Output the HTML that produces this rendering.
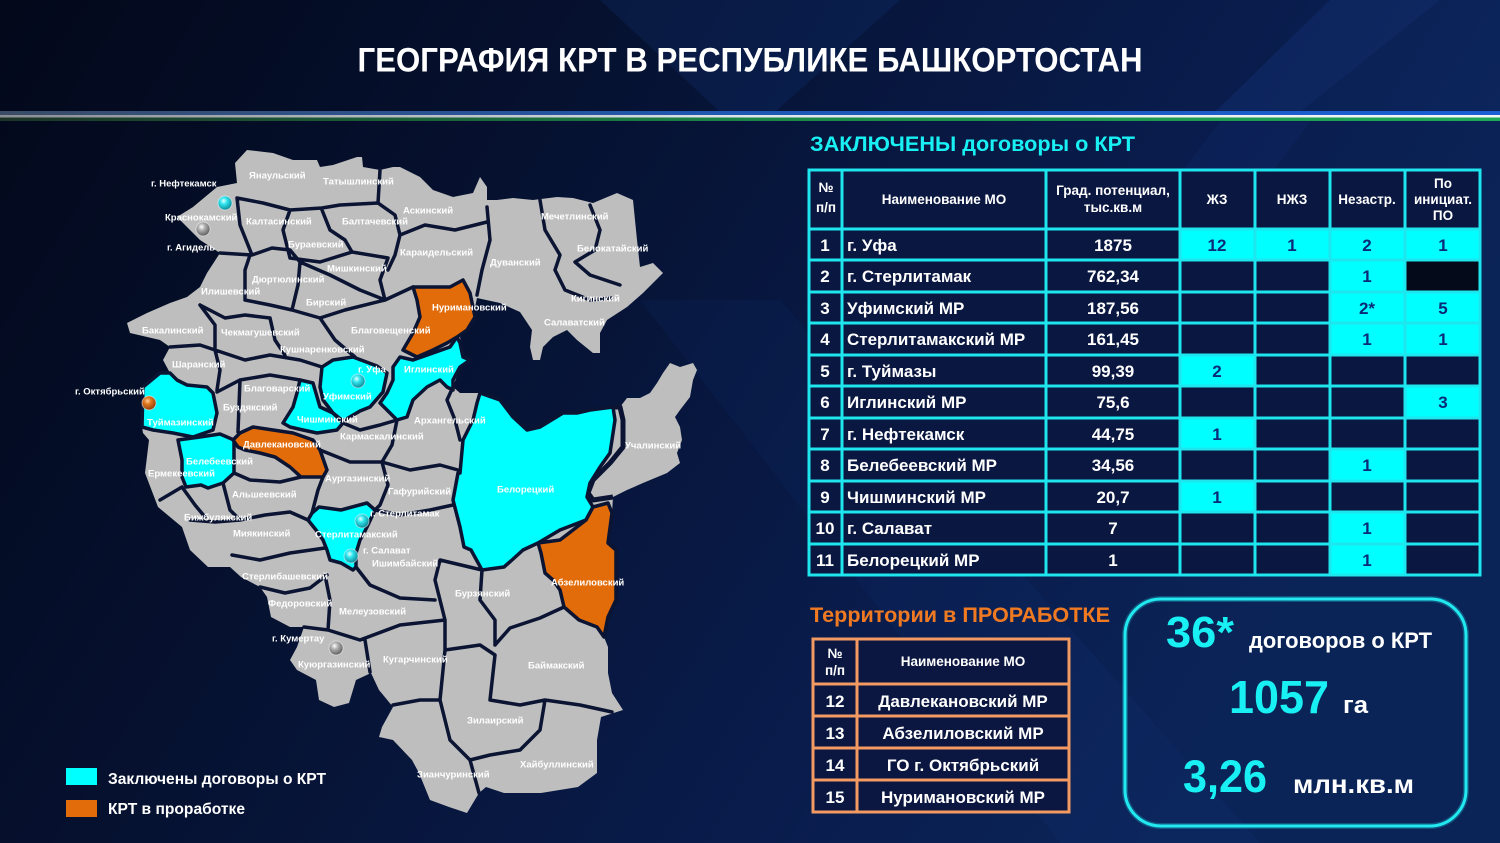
<!DOCTYPE html>
<html><head><meta charset="utf-8"><style>
html,body{margin:0;padding:0;background:#050c24;}
svg{display:block;}
text{font-family:"Liberation Sans","Noto Sans CJK SC",sans-serif;font-weight:bold;}
.ml{font-size:9.5px;fill:#fff;}
.tb{font-size:17px;fill:#fff;}
.tc{font-size:17px;fill:#0a2a78;}
.th{font-size:13.5px;fill:#fff;}
</style></head><body>
<svg width="1500" height="843" viewBox="0 0 1500 843" xmlns="http://www.w3.org/2000/svg">
<defs>
<linearGradient id="bg" x1="0" y1="0" x2="1" y2="0.35">
<stop offset="0" stop-color="#03081a"/><stop offset="0.4" stop-color="#061232"/><stop offset="0.75" stop-color="#091c4c"/><stop offset="1" stop-color="#0b2458"/>
</linearGradient>
<linearGradient id="sb" x1="0" x2="1"><stop offset="0" stop-color="#3a4c66"/><stop offset="0.5" stop-color="#1e58b4"/><stop offset="1" stop-color="#1a60d4"/></linearGradient>
<linearGradient id="sw" x1="0" x2="1"><stop offset="0" stop-color="#8a8e94"/><stop offset="0.5" stop-color="#dde4ea"/><stop offset="1" stop-color="#f4f6f6"/></linearGradient>
<linearGradient id="sg" x1="0" x2="1"><stop offset="0" stop-color="#1c3428"/><stop offset="0.5" stop-color="#1a8648"/><stop offset="1" stop-color="#1eaa58"/></linearGradient>
<radialGradient id="pc" cx="0.4" cy="0.35" r="0.7"><stop offset="0" stop-color="#e8ffff"/><stop offset="0.35" stop-color="#30e6ee"/><stop offset="1" stop-color="#0a8090"/></radialGradient>
<radialGradient id="pg" cx="0.4" cy="0.35" r="0.7"><stop offset="0" stop-color="#ffffff"/><stop offset="0.35" stop-color="#b0b0b0"/><stop offset="1" stop-color="#555"/></radialGradient>
<radialGradient id="po" cx="0.4" cy="0.35" r="0.7"><stop offset="0" stop-color="#ffd0a0"/><stop offset="0.35" stop-color="#e07820"/><stop offset="1" stop-color="#8a3a08"/></radialGradient>
</defs>
<!-- background -->
<rect width="1500" height="843" fill="url(#bg)"/>
<polygon points="600,0 900,0 775,112 720,112" fill="#1a4aa0" opacity="0.16"/>
<polygon points="1330,0 1440,0 1300,112 1215,112" fill="#2a5ac0" opacity="0.14"/>
<polygon points="1440,0 1500,0 1500,112 1300,112" fill="#1a4aa0" opacity="0.08"/>
<polygon points="640,300 780,300 1260,843 1060,843" fill="#1a4aa0" opacity="0.08"/>
<polygon points="1220,122 1310,122 1100,400 1010,400" fill="#2a5ac0" opacity="0.07"/>
<!-- stripe -->
<rect x="0" y="111" width="1500" height="4" fill="url(#sb)"/>
<rect x="0" y="115" width="1500" height="2.5" fill="url(#sw)"/>
<rect x="0" y="117.5" width="1500" height="3.5" fill="url(#sg)"/>
<!-- title -->
<text x="750" y="71.5" text-anchor="middle" font-size="34" fill="#fff" textLength="785" lengthAdjust="spacingAndGlyphs">ГЕОГРАФИЯ КРТ В РЕСПУБЛИКЕ БАШКОРТОСТАН</text>

<!-- MAP -->
<path d="M217,187 L237,183 L235,163 L247,150 L273,153 L293,160 L317,160 L320,167 L333,165 L357,157 L362,157 L363,167 L380,170 L393,167 L400,167 L420,177 L433,190 L453,197 L473,193 L480,177 L487,187 L487,200 L497,200 L513,198 L533,200 L557,197 L573,198 L593,203 L617,193 L633,200 L637,240 L640,267 L653,263 L663,273 L643,293 L627,307 L607,320 L600,333 L600,353 L593,353 L577,340 L567,330 L553,337 L543,347 L540,360 L533,360 L530,347 L532,330 L520,312 L500,303 L477,298 L473,317 L467,330 L460,337 L463,357 L470,360 L460,367 L453,387 L460,393 L480,393 L500,400 L513,417 L527,430 L540,427 L563,413 L577,413 L590,410 L613,407 L620,407 L627,398 L640,398 L650,393 L657,383 L663,373 L670,363 L680,367 L693,363 L697,370 L693,380 L690,397 L680,410 L675,417 L680,427 L682,440 L677,453 L680,463 L667,473 L643,483 L627,490 L613,497 L612,513 L608,543 L616,550 L616,600 L608,617 L604,637 L608,647 L608,673 L612,693 L623,710 L601,717 L597,740 L597,773 L578,787 L541,793 L504,793 L486,787 L479,793 L467,813 L449,807 L430,800 L419,773 L412,760 L393,740 L379,737 L382,727 L393,707 L379,690 L371,673 L356,680 L349,703 L334,707 L319,700 L316,680 L297,670 L290,660 L297,647 L304,627 L290,627 L271,617 L267,597 L260,587 L241,577 L230,567 L208,567 L190,550 L182,527 L158,507 L145,473 L149,440 L143,433 L142,427 L143,387 L160,373 L170,373 L163,360 L170,347 L160,340 L130,333 L127,323 L147,313 L170,303 L187,297 L200,287 L207,273 L220,253 L200,240 L177,217 L193,207 Z" fill="#bebebe"/>
<!-- internal borders -->
<path fill="none" stroke="#0b1533" stroke-width="3.5" stroke-linejoin="round" stroke-linecap="round" d="
M237,198 L263,203 L290,210 L322,208 L340,205 L378,203
M237,198 L240,225 L248,245 L252,255
M220,253 L252,255 L272,248 L290,250 L300,262
M290,210 L283,230 L290,258
M322,210 L330,230 L345,240 L352,252
M378,203 L380,170
M378,203 L395,215 L400,235
M400,235 L395,255 L388,270
M290,258 L320,262 L352,252 L388,258
M388,258 L380,280 L385,300
M300,262 L330,275 L360,290 L385,300
M250,255 L245,270 L245,300
M200,305 L225,318 L245,315 L270,318
M245,300 L270,305 L292,310
M300,262 L298,285 L292,310
M292,310 L320,318 L345,310 L385,300 L413,287
M320,318 L335,340 L355,357
M270,318 L275,340 L285,355
M170,347 L200,345 L215,350
M200,305 L215,325 L215,350
M215,350 L220,370 L217,390
M215,350 L245,360 L270,355 L300,360 L322,367
M217,392 L240,380 L270,375 L300,380
M240,380 L238,432
M343,423 L360,430 L380,425 L397,420
M397,420 L392,445 L382,462
M320,450 L350,462 L382,462 L410,470 L440,465 L458,470
M382,462 L388,485 L380,505 L375,510
M323,477 L318,490 L312,513
M234,473 L250,480 L280,482 L301,477
M223,483 L230,510 L240,520
M182,487 L195,505 L205,517
M160,500 L182,487
M190,520 L215,522 L240,520 L265,515 L290,512 L308,520
M232,555 L260,560 L290,553 L325,548
M375,510 L400,515 L430,510 L453,505
M356,567 L370,585 L400,598 L435,600
M482,570 L440,560 L435,580 L440,600 L445,620
M260,587 L285,593 L310,588 L327,575
M325,575 L330,600 L328,630
M304,627 L328,630 L360,640 L400,625 L445,620
M365,640 L370,672
M445,620 L445,650 L440,700
M393,705 L420,700 L440,700
M445,650 L480,645 L495,655 L490,700 L520,705 L545,700 L580,705 L612,712
M545,700 L540,730 L520,750 L490,755 L470,760
M440,700 L450,740 L470,760 L479,793
M482,570 L480,600 L495,620 L495,645
M564,607 L540,618 L510,628 L495,645
M487,207 L490,240 L482,270 L477,295
M540,200 L545,230 L560,255 L555,270
M590,205 L600,230 L595,250 L575,262
M555,270 L565,290 L590,300 L612,298
M575,262 L590,275 L620,285
M400,235 L425,225 L455,230 L487,222
M453,387 L447,400 L455,420 L460,440
"/>
<path fill="none" stroke="#0b1533" stroke-width="5" stroke-linejoin="round" d="M613,407 L620,407 L623,420 L623,447 L610,463 L593,480 L588,493 L593,500 L613,497"/>
<!-- colored regions -->
<g stroke="#0b1533" stroke-width="3.5" stroke-linejoin="round">
<polygon fill="#00ffff" points="143,387 160,373 170,373 177,380 187,385 207,387 213,393 217,413 213,430 193,437 173,433 153,430 142,427"/>
<polygon fill="#00ffff" points="178,440 200,437 220,434 234,440 234,473 223,483 208,488 201,485 186,487 182,477 182,460"/>
<polygon fill="#e36c0a" points="233,440 240,433 253,427 273,430 293,433 313,440 320,450 327,470 323,477 301,477 290,467 275,457 260,453 245,450 238,447"/>
<polygon fill="#00ffff" points="300,380 313,383 320,407 333,413 343,423 337,430 317,433 303,430 290,427 283,423 293,407 297,393"/>
<polygon fill="#00ffff" points="322,367 333,360 353,357 377,366 387,373 383,392 370,407 360,411 343,421 333,413 323,400 320,387"/>
<polygon fill="#00ffff" points="400,357 413,360 433,353 450,347 457,337 460,343 463,357 470,360 460,367 453,380 453,390 447,387 440,380 427,387 413,400 407,417 397,420 387,410 380,403 387,393 393,380 393,367"/>
<polygon fill="#e36c0a" points="413,287 430,287 450,287 463,280 470,293 475,317 467,330 457,337 447,343 433,350 417,357 403,350 413,333 420,317 417,300"/>
<polygon fill="#00ffff" points="480,393 500,400 513,417 527,430 540,427 563,413 577,413 590,410 613,407 615,420 612,440 610,453 600,467 590,483 587,497 593,507 586,520 560,530 538,543 523,550 512,560 504,567 482,570 471,550 464,547 460,527 453,500 458,473 460,473 463,440 473,420 477,403"/>
<polygon fill="#e36c0a" points="608,503 612,513 608,543 616,550 616,600 608,617 604,637 597,627 579,620 564,607 560,590 553,580 545,573 541,553 538,543 560,540 586,520 593,507"/>
<polygon fill="#00ffff" points="312,513 319,507 341,510 367,503 375,510 367,527 364,533 360,540 356,553 356,567 353,570 341,563 330,560 327,550 323,540 316,530 308,520"/>
</g>
<!-- pins -->
<g stroke="#ffffff" stroke-opacity="0.5" stroke-width="1">
<circle cx="225" cy="203" r="7" fill="url(#pc)"/>
<circle cx="203" cy="229" r="7" fill="url(#pg)"/>
<circle cx="358" cy="381" r="7" fill="url(#pc)"/>
<circle cx="149" cy="403" r="7" fill="url(#po)"/>
<circle cx="362" cy="521" r="7" fill="url(#pc)"/>
<circle cx="351" cy="556" r="7" fill="url(#pc)"/>
<circle cx="336" cy="648" r="7" fill="url(#pg)"/>
</g>
<!-- map labels -->
<g class="ml">
<text class="ml" x="151" y="186.5">г. Нефтекамск</text>
<text class="ml" x="249" y="178.5">Янаульский</text>
<text class="ml" x="323" y="184.5">Татышлинский</text>
<text class="ml" x="165" y="220.5">Краснокамский</text>
<text class="ml" x="246" y="224.5">Калтасинский</text>
<text class="ml" x="342" y="224.5">Балтачевский</text>
<text class="ml" x="403" y="213.5">Аскинский</text>
<text class="ml" x="541" y="219.5">Мечетлинский</text>
<text class="ml" x="167" y="250.5">г. Агидель</text>
<text class="ml" x="288" y="247.5">Бураевский</text>
<text class="ml" x="400" y="255.5">Караидельский</text>
<text class="ml" x="577" y="251.5">Белокатайский</text>
<text class="ml" x="490" y="265.5">Дуванский</text>
<text class="ml" x="327" y="271.5">Мишкинский</text>
<text class="ml" x="252" y="282.5">Дюртюлинский</text>
<text class="ml" x="201" y="294.5">Илишевский</text>
<text class="ml" x="306" y="305.5">Бирский</text>
<text class="ml" x="432" y="310.5">Нуримановский</text>
<text class="ml" x="571" y="301.5">Кигинский</text>
<text class="ml" x="544" y="325.5">Салаватский</text>
<text class="ml" x="142" y="333.5">Бакалинский</text>
<text class="ml" x="221" y="335.5">Чекмагушевский</text>
<text class="ml" x="351" y="333.5">Благовещенский</text>
<text class="ml" x="280" y="352.5">Кушнаренковский</text>
<text class="ml" x="172" y="367.5">Шаранский</text>
<text class="ml" x="358" y="372.5">г. Уфа</text>
<text class="ml" x="404" y="372.5">Иглинский</text>
<text class="ml" x="75" y="394.5">г. Октябрьский</text>
<text class="ml" x="244" y="391.5">Благоварский</text>
<text class="ml" x="323" y="399.5">Уфимский</text>
<text class="ml" x="223" y="410.5">Буздякский</text>
<text class="ml" x="414" y="423.5">Архангельский</text>
<text class="ml" x="147" y="425.5">Туймазинский</text>
<text class="ml" x="297" y="422.5">Чишминский</text>
<text class="ml" x="340" y="439.5">Кармаскалинский</text>
<text class="ml" x="243" y="447.5">Давлекановский</text>
<text class="ml" x="625" y="448.5">Учалинский</text>
<text class="ml" x="186" y="464.5">Белебеевский</text>
<text class="ml" x="148" y="476.5">Ермекеевский</text>
<text class="ml" x="325" y="481.5">Аургазинский</text>
<text class="ml" x="497" y="492.5">Белорецкий</text>
<text class="ml" x="388" y="494.5">Гафурийский</text>
<text class="ml" x="232" y="497.5">Альшеевский</text>
<text class="ml" x="370" y="516.5">г. Стерлитамак</text>
<text class="ml" x="184" y="520.5">Бижбулякский</text>
<text class="ml" x="233" y="536.5">Миякинский</text>
<text class="ml" x="315" y="537.5">Стерлитамакский</text>
<text class="ml" x="363" y="553.5">г. Салават</text>
<text class="ml" x="372" y="566.5">Ишимбайский</text>
<text class="ml" x="242" y="579.5">Стерлибашевский</text>
<text class="ml" x="551" y="585.5">Абзелиловский</text>
<text class="ml" x="455" y="596.5">Бурзянский</text>
<text class="ml" x="268" y="606.5">Федоровский</text>
<text class="ml" x="339" y="614.5">Мелеузовский</text>
<text class="ml" x="272" y="641.5">г. Кумертау</text>
<text class="ml" x="383" y="662.5">Кугарчинский</text>
<text class="ml" x="298" y="667.5">Куюргазинский</text>
<text class="ml" x="528" y="668.5">Баймакский</text>
<text class="ml" x="467" y="723.5">Зилаирский</text>
<text class="ml" x="520" y="767.5">Хайбуллинский</text>
<text class="ml" x="417" y="777.5">Зианчуринский</text>
</g>
<!-- legend -->
<rect x="66" y="768" width="31" height="17" fill="#00ffff"/>
<rect x="66" y="800" width="31" height="17" fill="#e36c0a"/>
<text x="108" y="784" font-size="16" fill="#fff" textLength="218" lengthAdjust="spacingAndGlyphs">Заключены договоры о КРТ</text>
<text x="108" y="814" font-size="16" fill="#fff" textLength="137" lengthAdjust="spacingAndGlyphs">КРТ в проработке</text>

<!-- TABLE 1 -->
<text x="810" y="151" font-size="21" fill="#19f0f4" textLength="325" lengthAdjust="spacingAndGlyphs">ЗАКЛЮЧЕНЫ договоры о КРТ</text>
<rect x="808" y="169" width="673" height="406" fill="#0a1740"/>
<rect x="1405" y="260" width="75" height="32" fill="#050a1a"/>
<g fill="#00ffff">
<rect x="1180" y="229" width="300" height="31"/>
<rect x="1330" y="260" width="75" height="32"/>
<rect x="1330" y="292" width="150" height="63"/>
<rect x="1180" y="355" width="75" height="31"/>
<rect x="1405" y="386" width="75" height="32"/>
<rect x="1180" y="418" width="75" height="31"/>
<rect x="1330" y="449" width="75" height="32"/>
<rect x="1180" y="481" width="75" height="31"/>
<rect x="1330" y="512" width="75" height="63"/>
</g>
<g stroke="#1ee6ee" stroke-width="3" fill="none">
<rect x="809" y="170" width="671" height="405"/>
<path d="M842,170 V575 M1046,170 V575 M1180,170 V575 M1255,170 V575 M1330,170 V575 M1405,170 V575
M809,229 H1480 M809,260 H1480 M809,292 H1480 M809,323 H1480 M809,355 H1480 M809,386 H1480 M809,418 H1480 M809,449 H1480 M809,481 H1480 M809,512 H1480 M809,544 H1480"/>
</g>
<!-- header -->
<g class="th" text-anchor="middle">
<text class="th" x="826" y="192">№</text>
<text class="th" x="826" y="212">п/п</text>
<text class="th" x="944" y="204">Наименование МО</text>
<text class="th" x="1113" y="195">Град. потенциал,</text>
<text class="th" x="1113" y="212">тыс.кв.м</text>
<text class="th" x="1217" y="204">ЖЗ</text>
<text class="th" x="1292" y="204">НЖЗ</text>
<text class="th" x="1367" y="204">Незастр.</text>
<text class="th" x="1443" y="188">По</text>
<text class="th" x="1443" y="204">инициат.</text>
<text class="th" x="1443" y="220">ПО</text>
</g>
<g class="tb">
<text class="tb" x="825" y="251" text-anchor="middle">1</text><text class="tb" x="847" y="251">г. Уфа</text><text class="tb" x="1113" y="251" text-anchor="middle">1875</text>
<text class="tb" x="825" y="282" text-anchor="middle">2</text><text class="tb" x="847" y="282">г. Стерлитамак</text><text class="tb" x="1113" y="282" text-anchor="middle">762,34</text>
<text class="tb" x="825" y="314" text-anchor="middle">3</text><text class="tb" x="847" y="314">Уфимский МР</text><text class="tb" x="1113" y="314" text-anchor="middle">187,56</text>
<text class="tb" x="825" y="345" text-anchor="middle">4</text><text class="tb" x="847" y="345">Стерлитамакский МР</text><text class="tb" x="1113" y="345" text-anchor="middle">161,45</text>
<text class="tb" x="825" y="377" text-anchor="middle">5</text><text class="tb" x="847" y="377">г. Туймазы</text><text class="tb" x="1113" y="377" text-anchor="middle">99,39</text>
<text class="tb" x="825" y="408" text-anchor="middle">6</text><text class="tb" x="847" y="408">Иглинский МР</text><text class="tb" x="1113" y="408" text-anchor="middle">75,6</text>
<text class="tb" x="825" y="440" text-anchor="middle">7</text><text class="tb" x="847" y="440">г. Нефтекамск</text><text class="tb" x="1113" y="440" text-anchor="middle">44,75</text>
<text class="tb" x="825" y="471" text-anchor="middle">8</text><text class="tb" x="847" y="471">Белебеевский МР</text><text class="tb" x="1113" y="471" text-anchor="middle">34,56</text>
<text class="tb" x="825" y="503" text-anchor="middle">9</text><text class="tb" x="847" y="503">Чишминский МР</text><text class="tb" x="1113" y="503" text-anchor="middle">20,7</text>
<text class="tb" x="825" y="534" text-anchor="middle">10</text><text class="tb" x="847" y="534">г. Салават</text><text class="tb" x="1113" y="534" text-anchor="middle">7</text>
<text class="tb" x="825" y="566" text-anchor="middle">11</text><text class="tb" x="847" y="566">Белорецкий МР</text><text class="tb" x="1113" y="566" text-anchor="middle">1</text>
</g>
<g class="tc" text-anchor="middle">
<text class="tc" x="1217" y="251">12</text><text class="tc" x="1292" y="251">1</text><text class="tc" x="1367" y="251">2</text><text class="tc" x="1443" y="251">1</text>
<text class="tc" x="1367" y="282">1</text>
<text class="tc" x="1367" y="314">2*</text><text class="tc" x="1443" y="314">5</text>
<text class="tc" x="1367" y="345">1</text><text class="tc" x="1443" y="345">1</text>
<text class="tc" x="1217" y="377">2</text>
<text class="tc" x="1443" y="408">3</text>
<text class="tc" x="1217" y="440">1</text>
<text class="tc" x="1367" y="471">1</text>
<text class="tc" x="1217" y="503">1</text>
<text class="tc" x="1367" y="534">1</text>
<text class="tc" x="1367" y="566">1</text>
</g>

<!-- TABLE 2 -->
<text x="810" y="622" font-size="21" fill="#f07a22" textLength="300" lengthAdjust="spacingAndGlyphs">Территории в ПРОРАБОТКЕ</text>
<rect x="812" y="638" width="258" height="175" fill="#0b1740"/>
<g stroke="#f29a62" stroke-width="3" fill="none">
<rect x="813" y="639" width="256" height="173"/>
<path d="M857,639 V812 M813,684 H1069 M813,716 H1069 M813,748 H1069 M813,780 H1069"/>
</g>
<g text-anchor="middle">
<text class="th" x="835" y="658">№</text>
<text class="th" x="835" y="675">п/п</text>
<text class="th" x="963" y="666">Наименование МО</text>
<text class="tb" x="835" y="707">12</text><text class="tb" x="963" y="707">Давлекановский МР</text>
<text class="tb" x="835" y="739">13</text><text class="tb" x="963" y="739">Абзелиловский МР</text>
<text class="tb" x="835" y="771">14</text><text class="tb" x="963" y="771">ГО г. Октябрьский</text>
<text class="tb" x="835" y="803">15</text><text class="tb" x="963" y="803">Нуримановский МР</text>
</g>

<!-- STATS BOX -->
<rect x="1125" y="599" width="341" height="227" rx="36" ry="36" fill="none" stroke="#1ee6ee" stroke-width="6" opacity="0.25"/>
<rect x="1125" y="599" width="341" height="227" rx="36" ry="36" fill="none" stroke="#22e8f0" stroke-width="3"/>
<text x="1166" y="647" font-size="44" fill="#19f0f4" textLength="68" lengthAdjust="spacingAndGlyphs">36*</text>
<text x="1249" y="648" font-size="22" fill="#fff" textLength="183" lengthAdjust="spacingAndGlyphs">договоров о КРТ</text>
<text x="1229" y="713" font-size="46" fill="#19f0f4" textLength="100" lengthAdjust="spacingAndGlyphs">1057</text>
<text x="1343" y="713" font-size="24" fill="#fff" textLength="25" lengthAdjust="spacingAndGlyphs">га</text>
<text x="1183" y="792" font-size="45" fill="#19f0f4" textLength="84" lengthAdjust="spacingAndGlyphs">3,26</text>
<text x="1293" y="793" font-size="26" fill="#fff" textLength="121" lengthAdjust="spacingAndGlyphs">млн.кв.м</text>
</svg>
</body></html>
